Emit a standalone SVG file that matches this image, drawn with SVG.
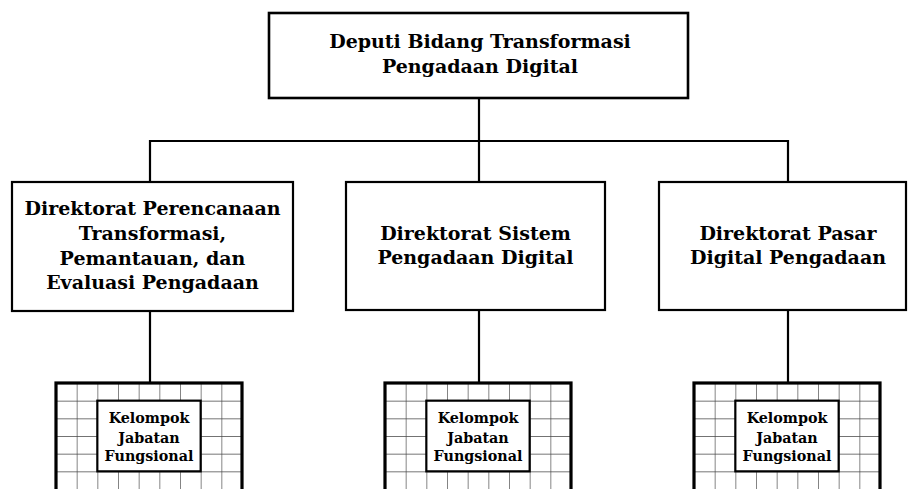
<svg xmlns="http://www.w3.org/2000/svg" width="908" height="489" viewBox="0 0 908 489">
<style>
.box{fill:#fff;stroke:#000;stroke-width:2.2}
.top{fill:#fff;stroke:#000;stroke-width:2.6}
.t{font-family:"DejaVu Serif","Liberation Serif",serif;font-weight:bold;font-size:19px;text-anchor:middle;fill:#000}
.s{font-family:"DejaVu Serif","Liberation Serif",serif;font-weight:bold;font-size:14.3px;text-anchor:middle;fill:#000}
.outer{fill:url(#grid);stroke:#000;stroke-width:3.2}
.inner{fill:#fff;stroke:#000;stroke-width:2.2}
.conn{fill:none;stroke:#000;stroke-width:2.2}
</style>
<defs>
<pattern id="grid" patternUnits="userSpaceOnUse" x="0" y="0" width="20.667" height="17.667">
<rect width="20.667" height="17.667" fill="#fff"/>
<path d="M0 0H20.667M0 0V17.667" stroke="#444" stroke-width="1.3" fill="none"/>
</pattern>
</defs>
<g id="connectors">
<path class="conn" d="M479 98V182M150 182V141H788V182M150 311V383M479 310V383M788 310V383"/>
</g>
<g id="deputi">
<rect class="top" x="269" y="13" width="419" height="85"/>
<text class="t" x="480" y="48">Deputi Bidang Transformasi</text>
<text class="t" x="480" y="73">Pengadaan Digital</text>
</g>
<g id="dir-perencanaan">
<rect class="box" x="12" y="182" width="281" height="129"/>
<text class="t" x="152.5" y="215">Direktorat Perencanaan</text>
<text class="t" x="152.5" y="240">Transformasi,</text>
<text class="t" x="152.5" y="265">Pemantauan, dan</text>
<text class="t" x="152.5" y="289">Evaluasi Pengadaan</text>
</g>
<g id="dir-sistem">
<rect class="box" x="346" y="182" width="259" height="128"/>
<text class="t" x="475.5" y="240">Direktorat Sistem</text>
<text class="t" x="475.5" y="264">Pengadaan Digital</text>
</g>
<g id="dir-pasar">
<rect class="box" x="659" y="182" width="247" height="128"/>
<text class="t" x="788" y="240">Direktorat Pasar</text>
<text class="t" x="788" y="264">Digital Pengadaan</text>
</g>
<g id="jf-1" transform="translate(56,383)">
<rect class="outer" x="0" y="0" width="186" height="112"/>
<rect class="inner" x="41.33" y="17.67" width="103.33" height="70.67"/>
<text class="s" x="93" y="40">Kelompok</text>
<text class="s" x="93" y="60">Jabatan</text>
<text class="s" x="93" y="78">Fungsional</text>
</g>
<g id="jf-2" transform="translate(385,383)">
<rect class="outer" x="0" y="0" width="186" height="112"/>
<rect class="inner" x="41.33" y="17.67" width="103.33" height="70.67"/>
<text class="s" x="93" y="40">Kelompok</text>
<text class="s" x="93" y="60">Jabatan</text>
<text class="s" x="93" y="78">Fungsional</text>
</g>
<g id="jf-3" transform="translate(694,383)">
<rect class="outer" x="0" y="0" width="186" height="112"/>
<rect class="inner" x="41.33" y="17.67" width="103.33" height="70.67"/>
<text class="s" x="93" y="40">Kelompok</text>
<text class="s" x="93" y="60">Jabatan</text>
<text class="s" x="93" y="78">Fungsional</text>
</g>
</svg>
